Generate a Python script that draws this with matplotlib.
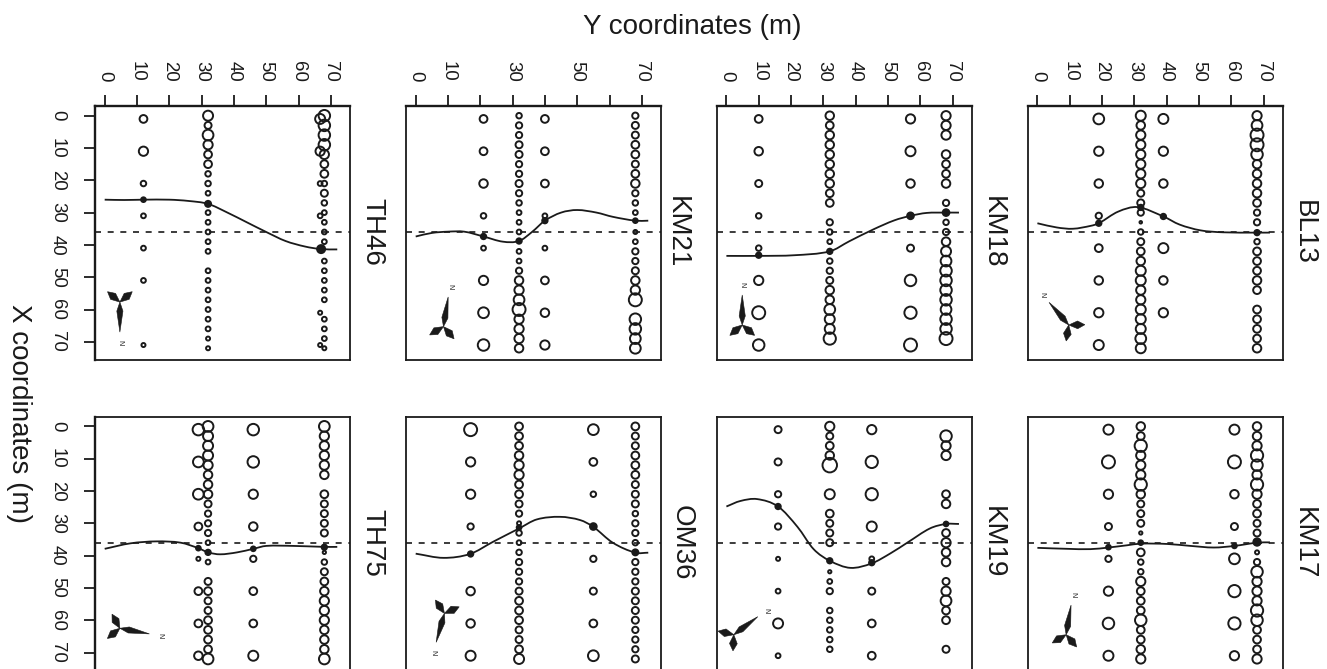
import math
import matplotlib
matplotlib.use("Agg")
import matplotlib.pyplot as plt
from matplotlib.patches import Polygon, PathPatch
from matplotlib.path import Path

plt.rcParams['font.family'] = ['Liberation Sans', 'DejaVu Sans']
INK = '#1a1a1a'
W, H = 1327, 669

ticks = [0, 10, 20, 30, 40, 50, 60, 70]
km21_labels = ['0', '10', '', '30', '', '50', '', '70']
DEPTH = 36

# Sizes are outer circle diameters (in thirds of a pixel)
TH46_y = [12, 32, 68, 66.7]
TH46_x = [[1, 11, 21, 31, 41, 51, 71],
          [0, 3, 6, 9, 12, 15, 18, 21, 24, 30, 33, 36, 39, 42, 48, 51, 54, 57, 60, 63, 66, 69, 72],
          [0, 3, 6, 9, 12, 15, 18, 21, 24, 27, 30, 33, 36, 39, 45, 48, 51, 54, 57, 63, 66, 69, 72],
          [1, 11, 21, 31, 61, 71]]
TH46_d = [[26, 30, 20, 18, 18, 18, 16],
          [32, 24, 34, 30, 26, 26, 20, 20, 18, 18, 18, 18, 18, 18, 18, 18, 18, 18, 18, 18, 18, 16, 16],
          [36, 36, 36, 36, 30, 26, 26, 20, 24, 20, 18, 18, 18, 18, 18, 18, 18, 18, 18, 18, 18, 18, 16],
          [32, 30, 18, 18, 16, 16]]
TH46_fy, TH46_fx, TH46_fd = [12, 32, 67], [26, 27.3, 41.3], [20, 24, 30]
TH46_cy = [0, 6, 12, 20, 26, 32, 38, 44, 50, 56, 62, 67, 72]
TH46_cx = [26, 26.1, 26, 26, 26.4, 27.3, 30, 33, 36, 38.8, 40.5, 41.3, 41.4]

KM21_y = [21, 32, 40, 68]
KM21_x = [[1, 11, 21, 31, 41, 51, 61, 71],
          [0, 3, 6, 9, 12, 15, 18, 21, 24, 27, 30, 33, 36, 42, 45, 48, 51, 54, 57, 60, 63, 66, 69, 72],
          [1, 11, 21, 31, 41, 51, 61, 71],
          [0, 3, 6, 9, 12, 15, 18, 21, 24, 27, 30, 36, 39, 42, 45, 48, 51, 54, 57, 63, 66, 69, 72]]
KM21_d = [[26, 26, 28, 20, 18, 30, 34, 36],
          [20, 22, 22, 24, 24, 22, 22, 24, 22, 20, 18, 18, 18, 18, 18, 22, 28, 30, 34, 40, 30, 30, 30, 28],
          [26, 26, 26, 18, 18, 26, 28, 30],
          [22, 24, 24, 26, 26, 24, 26, 28, 22, 20, 18, 16, 18, 22, 22, 24, 28, 30, 40, 36, 36, 34, 34]]
KM21_fy, KM21_fx, KM21_fd = [21, 32, 40, 68], [37.4, 38.8, 32.5, 32.5], [22, 22, 22, 20]
KM21_cy = [0, 5, 10, 15, 21, 27, 32, 36, 40, 45, 50, 56, 61, 68, 72]
KM21_cx = [37.4, 36.3, 35.9, 35.9, 37.4, 39, 38.8, 36, 32.5, 30, 29.2, 30, 31.3, 32.5, 32.5]

KM18_y = [10, 32, 57, 68]
KM18_x = [[1, 11, 21, 31, 41, 51, 61, 71],
          [0, 3, 6, 9, 12, 15, 18, 21, 24, 27, 33, 36, 39, 45, 48, 51, 54, 57, 60, 63, 66, 69],
          [1, 11, 21, 41, 51, 61, 71],
          [0, 3, 6, 12, 15, 18, 21, 27, 33, 36, 39, 42, 45, 48, 51, 54, 57, 60, 63, 66, 69]]
KM18_d = [[26, 28, 24, 20, 20, 30, 40, 36],
          [28, 26, 28, 28, 28, 28, 28, 28, 26, 26, 22, 20, 18, 20, 22, 24, 28, 28, 34, 32, 32, 38],
          [30, 32, 28, 24, 36, 38, 40],
          [30, 30, 30, 28, 26, 26, 28, 22, 20, 22, 28, 32, 34, 36, 36, 36, 36, 34, 36, 36, 40]]
KM18_fy, KM18_fx, KM18_fd = [10, 32, 57, 68], [43.2, 42, 31, 30], [22, 22, 26, 26]
KM18_cy = [0, 10.5, 21, 32, 38, 45.5, 52, 57, 62, 68, 72]
KM18_cx = [43.4, 43.4, 43.2, 42, 38.9, 35.2, 32.4, 31, 30.1, 30, 30]

BL13_y = [19, 32, 39, 68]
BL13_x = [[1, 11, 21, 31, 41, 51, 61, 71],
          [0, 3, 6, 9, 12, 15, 18, 21, 24, 27, 30, 33, 36, 39, 42, 45, 48, 51, 54, 57, 60, 63, 66, 69, 72],
          [1, 11, 21, 41, 51, 61],
          [0, 3, 6, 9, 12, 15, 18, 21, 24, 27, 30, 33, 39, 42, 45, 48, 51, 54, 60, 63, 66, 69, 72]]
BL13_d = [[34, 30, 28, 22, 26, 28, 30, 32],
          [32, 28, 30, 30, 30, 30, 30, 30, 24, 24, 22, 12, 20, 24, 26, 28, 32, 32, 30, 30, 32, 32, 32, 34, 32],
          [32, 30, 28, 32, 28, 30],
          [30, 34, 40, 40, 36, 28, 28, 28, 28, 26, 22, 22, 20, 26, 26, 26, 28, 26, 26, 26, 26, 26, 28]]
BL13_fy, BL13_fx, BL13_fd = [19, 32, 39, 68], [33.3, 28.4, 31.2, 36.2], [22, 22, 22, 22]
BL13_cy = [0, 6, 11, 16.5, 19, 25, 31, 39, 44, 50.5, 57.5, 68, 72]
BL13_cx = [33.3, 34.6, 35, 34.1, 33.3, 29.7, 28.3, 31.2, 33.7, 35.5, 36.1, 36.2, 36.2]

TH75_y = [29, 32, 46, 68]
TH75_x = [[1, 11, 21, 31, 41, 51, 61, 71],
          [0, 3, 6, 9, 12, 15, 18, 21, 24, 27, 30, 33, 36, 42, 48, 51, 54, 57, 60, 63, 66, 69, 72],
          [1, 11, 21, 31, 41, 51, 61, 71],
          [0, 3, 6, 9, 12, 15, 21, 24, 27, 30, 33, 39, 42, 45, 48, 51, 54, 57, 60, 63, 66, 69, 72]]
TH75_d = [[36, 34, 34, 26, 16, 26, 26, 28],
          [34, 32, 32, 32, 30, 28, 28, 28, 24, 22, 22, 22, 18, 18, 24, 26, 24, 24, 26, 26, 26, 26, 34],
          [36, 36, 30, 28, 22, 26, 26, 32],
          [34, 30, 30, 30, 30, 28, 26, 24, 24, 24, 24, 14, 20, 24, 26, 28, 30, 30, 30, 28, 28, 28, 34]]
TH75_fy, TH75_fx, TH75_fd = [29, 32, 46, 68], [37.7, 39, 37.9, 37.4], [20, 22, 20, 22]
TH75_cy = [0, 8, 16, 23.5, 29, 32, 35.7, 41, 46, 50, 58.4, 68, 72]
TH75_cx = [37.9, 36.2, 35.6, 36, 37.7, 39, 39.6, 39, 37.9, 37, 37, 37.3, 37.3]

OM36_y = [17, 32, 55, 68]
OM36_x = [[1, 11, 21, 31, 51, 61, 71],
          [0, 3, 6, 9, 12, 15, 18, 21, 24, 27, 30, 33, 36, 39, 42, 45, 48, 51, 54, 57, 60, 63, 66, 69, 72],
          [1, 11, 21, 41, 51, 61, 71],
          [0, 3, 6, 9, 12, 15, 18, 21, 24, 27, 30, 33, 36, 42, 45, 48, 51, 54, 57, 60, 63, 66, 69, 72]]
OM36_d = [[40, 30, 30, 22, 28, 28, 32],
          [26, 26, 26, 28, 30, 30, 26, 26, 24, 22, 16, 20, 18, 20, 22, 22, 22, 24, 26, 26, 26, 24, 24, 26, 32],
          [34, 26, 20, 22, 24, 26, 34],
          [26, 24, 24, 26, 26, 26, 24, 24, 24, 20, 22, 22, 20, 22, 22, 22, 24, 24, 24, 24, 22, 22, 22, 24]]
OM36_fy, OM36_fx, OM36_fd = [17, 32, 55, 68], [39.5, 31.3, 31, 39], [22, 20, 26, 24]
OM36_cy = [0, 8.6, 16.8, 24, 32, 37.5, 44.7, 50.9, 55, 61, 68, 72]
OM36_cx = [39.4, 40.7, 39.5, 35.7, 31.6, 28.8, 28, 29, 31.1, 36, 39.1, 39.1]

KM19_y = [16, 32, 45, 68]
KM19_x = [[1, 11, 21, 31, 41, 51, 61, 71],
          [0, 3, 6, 9, 12, 21, 27, 30, 33, 36, 45, 48, 51, 57, 60, 63, 66, 69],
          [1, 11, 21, 31, 41, 51, 61, 71],
          [3, 6, 9, 21, 24, 33, 36, 39, 42, 48, 51, 54, 57, 60, 69]]
KM19_d = [[24, 24, 22, 22, 16, 18, 32, 18],
          [30, 24, 26, 28, 44, 32, 26, 24, 24, 24, 14, 18, 22, 20, 20, 20, 20, 20],
          [30, 38, 38, 32, 18, 24, 26, 26],
          [36, 30, 30, 26, 28, 26, 30, 28, 28, 24, 30, 34, 26, 26, 24]]
KM19_fy, KM19_fx, KM19_fd = [16, 32, 45, 68], [24.8, 41.6, 42.2, 30.2], [22, 22, 22, 20]
KM19_cy = [0, 4.3, 9.5, 16, 22, 27, 32, 38.4, 45, 50.8, 56, 63, 68, 72]
KM19_cx = [24.8, 23.1, 22.5, 24.8, 31.1, 38, 41.6, 43.8, 42.4, 39.3, 36, 31.6, 30.2, 30.2]

KM17_y = [22, 32, 61, 68]
KM17_x = [[1, 11, 21, 31, 41, 51, 61, 71],
          [0, 3, 6, 9, 12, 15, 18, 21, 24, 27, 30, 33, 39, 42, 45, 48, 51, 54, 57, 60, 63, 66, 69, 72],
          [1, 11, 21, 31, 41, 51, 61, 71],
          [0, 3, 6, 9, 12, 15, 18, 21, 24, 27, 30, 33, 39, 42, 45, 48, 51, 54, 57, 60, 63, 66, 69, 72]]
KM17_d = [[32, 40, 30, 24, 22, 30, 36, 32],
          [28, 26, 38, 30, 30, 30, 38, 28, 24, 24, 24, 14, 26, 20, 20, 30, 26, 26, 26, 36, 26, 26, 28, 30],
          [32, 40, 28, 24, 34, 38, 38, 30],
          [28, 28, 30, 38, 36, 30, 38, 30, 26, 26, 24, 24, 16, 22, 36, 30, 30, 30, 38, 36, 26, 26, 26, 30]]
KM17_fy, KM17_fx, KM17_fd = [22, 32, 61, 68], [37.4, 36, 37, 35.8], [20, 20, 20, 28]
KM17_cy = [0, 9.2, 16.4, 22, 27.8, 32, 40.2, 47.4, 54.6, 61, 68, 72]
KM17_cx = [37.6, 37.9, 38, 37.5, 36.8, 36.3, 36.4, 37, 37.5, 37, 36, 35.9]

# Wind rose: centre (Y, X) and the bearing of its long blade, on screen, in degrees
rose_y = {'TH46': 4.7, 'KM21': 8.6, 'KM18': 4.9, 'BL13': 9.7, 'TH75': 4.7, 'OM36': 8.9, 'KM19': 2.3, 'KM17': 8.9}
rose_x = {'TH46': 57.7, 'KM21': 65.3, 'KM18': 64.8, 'BL13': 64.8, 'TH75': 62.5, 'OM36': 57.9, 'KM19': 64.5, 'KM17': 64.5}
rose_bearing = {'TH46': 90, 'KM21': -81, 'KM18': -90, 'BL13': -131, 'TH75': 10.8, 'OM36': 106, 'KM19': -37, 'KM17': -80.6}

# name, panel left, panel top, title centre x (all in pixels), then the data
panels = [
    ('TH46', 95, 106, 372, TH46_y, TH46_x, TH46_d, TH46_fy, TH46_fx, TH46_fd, TH46_cy, TH46_cx),
    ('KM21', 406, 106, 677, KM21_y, KM21_x, KM21_d, KM21_fy, KM21_fx, KM21_fd, KM21_cy, KM21_cx),
    ('KM18', 716.7, 106, 993, KM18_y, KM18_x, KM18_d, KM18_fy, KM18_fx, KM18_fd, KM18_cy, KM18_cx),
    ('BL13', 1027.7, 106, 1304, BL13_y, BL13_x, BL13_d, BL13_fy, BL13_fx, BL13_fd, BL13_cy, BL13_cx),
    ('TH75', 95, 416.7, 372, TH75_y, TH75_x, TH75_d, TH75_fy, TH75_fx, TH75_fd, TH75_cy, TH75_cx),
    ('OM36', 406, 416.7, 682, OM36_y, OM36_x, OM36_d, OM36_fy, OM36_fx, OM36_fd, OM36_cy, OM36_cx),
    ('KM19', 716.7, 416.7, 993, KM19_y, KM19_x, KM19_d, KM19_fy, KM19_fx, KM19_fd, KM19_cy, KM19_cx),
    ('KM17', 1027.7, 416.7, 1304, KM17_y, KM17_x, KM17_d, KM17_fy, KM17_fx, KM17_fd, KM17_cy, KM17_cx),
]

fig = plt.figure(figsize=(W / 100, H / 100), dpi=100)
LW_PT = 1.4
PANEL_W, PANEL_H = 255, 254
SCALE = 3.23


def size_of(d):
    # thirds of a pixel (outer diameter) -> scatter area in pt^2
    return (max(d / 3 * 1.12 - LW_PT / 0.72, 1.5) * 0.72) ** 2


def blade(ax, cy, cx, angle, length, half, bulge):
    a = math.radians(angle)
    ux, uy = math.cos(a), math.sin(a)
    vx, vy = -uy, ux
    pts = [(cy, cx),
           (cy + ux * length * bulge + vx * half, cx + uy * length * bulge + vy * half),
           (cy + ux * length, cx + uy * length),
           (cy + ux * length * bulge - vx * half, cx + uy * length * bulge - vy * half)]
    ax.add_patch(Polygon(pts, closed=True, fc=INK, ec=INK, lw=0.4, zorder=4))


def smooth_curve(ax, ys, xs):
    # the read points are the knots of a smooth pen stroke, as in the original
    n = len(ys)
    slopes = []
    for i in range(n):
        a, b = max(i - 1, 0), min(i + 1, n - 1)
        slopes.append((xs[b] - xs[a]) / (ys[b] - ys[a]))
    verts = [(ys[0], xs[0])]
    codes = [Path.MOVETO]
    for i in range(n - 1):
        h = ys[i + 1] - ys[i]
        verts += [(ys[i] + h / 3, xs[i] + slopes[i] * h / 3),
                  (ys[i + 1] - h / 3, xs[i + 1] - slopes[i + 1] * h / 3),
                  (ys[i + 1], xs[i + 1])]
        codes += [Path.CURVE4] * 3
    ax.add_patch(PathPatch(Path(verts, codes), fc='none', ec=INK, lw=1.3, zorder=3))


for name, left, top, title_x, ys, xs, ds, fy, fx, fd, cy, cx in panels:
    ax = fig.add_axes([left / W, 1 - (top + PANEL_H) / H, PANEL_W / W, PANEL_H / H])
    ax.set_xlim(-9.7 / SCALE, (PANEL_W - 9.7) / SCALE)
    ax.set_ylim((PANEL_H - 9.7) / SCALE, -9.7 / SCALE)
    is_top = top < 200
    is_left = left < 100
    for s in ax.spines.values():
        s.set_linewidth(1.3)
        s.set_color(INK)
    if is_top:
        ax.spines['top'].set_linewidth(1.7)
    if is_left:
        ax.spines['left'].set_linewidth(1.7)
    ax.axhline(DEPTH, color=INK, lw=1.2, dashes=(3.6, 4.0), zorder=1)
    for y, x_list, d_list in zip(ys, xs, ds):
        ax.scatter([y] * len(x_list), x_list, s=[size_of(d) for d in d_list],
                   facecolors='none', edgecolors=INK, linewidths=LW_PT, zorder=2)
    smooth_curve(ax, cy, cx)
    ax.scatter(fy, fx, s=[(d / 3 * 0.72) ** 2 for d in fd], color=INK, linewidths=0, zorder=4)

    by, bx, bearing = rose_y[name], rose_x[name], rose_bearing[name]
    blade(ax, by, bx, bearing, 9.3, 0.95, 0.3)
    blade(ax, by, bx, bearing + 130, 5.0, 1.2, 0.55)
    blade(ax, by, bx, bearing - 130, 5.0, 1.2, 0.55)
    a = math.radians(bearing)
    ax.text(by + math.cos(a) * 12.6, bx + math.sin(a) * 12.6, 'N', fontsize=5, color=INK,
            rotation=-90, ha='center', va='center')

    ax.set_xticks(ticks if is_top else [])
    ax.set_yticks(ticks if is_left else [])
    ax.tick_params(axis='x', which='major', top=is_top, bottom=False, labeltop=is_top, labelbottom=False,
                   length=8, width=1.3, color=INK, pad=9.5, labelsize=13.4, labelcolor=INK)
    ax.tick_params(axis='y', which='major', left=is_left, labelleft=is_left,
                   length=8, width=1.3, color=INK, pad=13, labelsize=13.4, labelcolor=INK)
    if is_top:
        ax.set_xticklabels(km21_labels if name == 'KM21' else [str(t) for t in ticks], rotation=-90,
                           ha='center', va='bottom')
    if is_left:
        ax.set_yticklabels([str(t) for t in ticks], rotation=-90, ha='right', va='center')
    fig.text(title_x / W, 1 - (top + 126) / H, name, rotation=-90, fontsize=20, color=INK,
             ha='center', va='center')

fig.text(692 / W, 1 - 27 / H, 'Y coordinates (m)', fontsize=20, color=INK, ha='center', va='center')
fig.text(19 / W, 1 - 413 / H, 'X coordinates (m)', fontsize=20, color=INK, rotation=-90, ha='center', va='center')
fig.savefig('out.png', dpi=100, facecolor='white')
